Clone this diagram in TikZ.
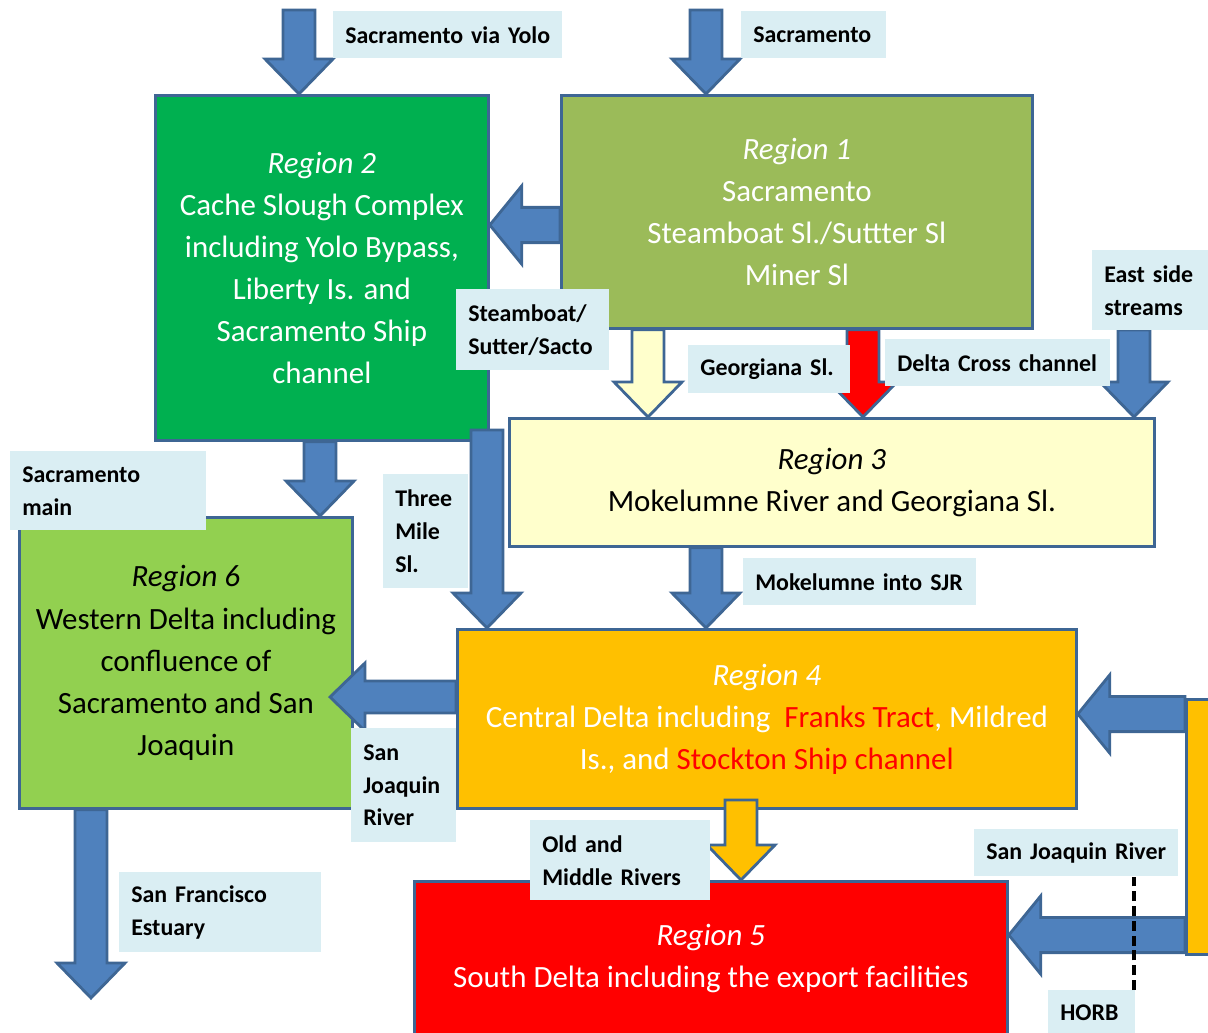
\documentclass[tikz,border=0pt]{standalone}
\usepackage{fontspec}
\setmainfont{Carlito}
\usetikzlibrary{calc}

\definecolor{arrowfill}{HTML}{4F81BD}
\definecolor{edgeblue}{HTML}{3E6694}
\definecolor{tagfill}{HTML}{DAEEF3}
\definecolor{cachegreen}{HTML}{00B050}
\definecolor{sacolive}{HTML}{9BBB59}
\definecolor{mokyellow}{HTML}{FFFFCC}
\definecolor{westgreen}{HTML}{92D050}
\definecolor{centralorange}{HTML}{FFC000}
\definecolor{southred}{HTML}{FF0000}

\newcommand{\regionfont}{\fontsize{22}{29.9}\selectfont}
\newcommand{\tagfont}{\bfseries\fontsize{17}{23.4}\selectfont}
\newcommand{\pu}[1]{#1*0.025cm}

% block arrow from tail to tip
\newcommand{\arrowshaft}{0.4cm}
\newcommand{\arrowhead}{0.85cm}
\newcommand{\arrowlen}{0.875cm}
\newcommand{\flowarrow}[3][flowblue]{%
  \path #2 coordinate (fatail) #3 coordinate (fatip);
  \path ($(fatip)!\arrowlen!(fatail)$) coordinate (fabase);
  \draw[#1] ($(fatail)!\arrowshaft!90:(fatip)$) -- ($(fabase)!\arrowshaft!90:(fatip)$)
    -- ($(fabase)!\arrowhead!90:(fatip)$) -- (fatip) -- ($(fabase)!\arrowhead!-90:(fatip)$)
    -- ($(fabase)!\arrowshaft!-90:(fatip)$) -- ($(fatail)!\arrowshaft!-90:(fatip)$) -- cycle;
}

\begin{document}
\begin{tikzpicture}[x=0.025cm,y=-0.025cm,
  region/.style={draw=edgeblue, line width=0.07cm, anchor=north west, align=center, font=\regionfont},
  riverlabel/.style={fill=tagfill, anchor=north west, inner xsep=0.3cm, inner ysep=0pt, align=left, font=\tagfont},
  flowblue/.style={fill=arrowfill, draw=edgeblue, line width=0.07cm, line join=miter},
  ]

  \useasboundingbox (0,0) rectangle (1208,1032);

  % regions
  \node[region, fill=cachegreen, text=white, minimum width=\pu{333}, minimum height=\pu{345}] (r2) at (154,94)
    {\textit{Region 2}\\Cache Slough Complex\\including Yolo Bypass,\\Liberty Is. and\\Sacramento Ship\\channel};
  \node[region, fill=sacolive, text=white, minimum width=\pu{471}, minimum height=\pu{233}] (r1) at (560,94)
    {\textit{Region 1}\\Sacramento\\Steamboat Sl./Suttter Sl\\Miner Sl};
  \node[region, fill=mokyellow, text=black, minimum width=\pu{645}, minimum height=\pu{128}] (r3) at (508,417)
    {\textit{Region 3}\\Mokelumne River and Georgiana Sl.};
  \node[region, fill=westgreen, text=black, minimum width=\pu{333}, minimum height=\pu{291}] (r6) at (18,516)
    {\textit{Region 6}\\Western Delta including\\confluence of\\Sacramento and San\\Joaquin};
  \node[region, fill=centralorange, text=white, minimum width=\pu{619}, minimum height=\pu{179}] (r4) at (456,628)
    {\textit{Region 4}\\Central Delta including\ \ \textcolor{southred}{Franks Tract}, Mildred\\Is., and \textcolor{southred}{Stockton Ship channel}};
  \node[region, fill=southred, text=white, minimum width=\pu{593}, minimum height=\pu{155}] (r5) at (413,880)
    {\textit{Region 5}\\South Delta including the export facilities};
  \node[region, fill=centralorange, minimum width=\pu{40}, minimum height=\pu{255}] (sjbar) at (1185,698) {};

  % inflows and links
  \coordinate (yolo) at (299,10);
  \coordinate (sacin) at (706,10);
  \coordinate (eastin) at (1134,330);
  \coordinate (threemile) at (487,430);
  \coordinate (sfout) at (91,998);

  \flowarrow{(yolo)}{(yolo |- r2.north)}
  \flowarrow{(sacin)}{(sacin |- r1.north)}
  {\renewcommand{\arrowshaft}{0.44cm}\renewcommand{\arrowhead}{0.98cm}\renewcommand{\arrowlen}{0.8cm}
  \flowarrow{(r1.west |- 0,225)}{(r2.east |- 0,225)}
  \flowarrow{(sjbar.west |- 0,714)}{(r4.east |- 0,714)}
  \flowarrow{(sjbar.west |- 0,935)}{(r5.east |- 0,935)}}
  \flowarrow[flowblue, fill=mokyellow]{(r1.south -| 648,0)}{(r3.north -| 648,0)}
  \flowarrow[flowblue, fill=southred]{(r1.south -| 863,0)}{(r3.north -| 863,0)}
  \flowarrow{(eastin)}{(eastin |- r3.north)}
  \flowarrow{(r2.south -| 320,0)}{(r6.north -| 320,0)}
  \flowarrow{(threemile)}{(threemile |- r4.north)}
  \flowarrow{(r3.south -| 706,0)}{(r4.north -| 706,0)}
  \flowarrow{(r4.west |- 0,697)}{(330,697)}
  \flowarrow[flowblue, fill=centralorange]{(741,800)}{(r5.north -| 741,0)}
  \flowarrow{(r6.south -| sfout)}{(sfout)}

  % labels
  \node[riverlabel, text width=5.125cm, minimum height=1.175cm] (lyolo) at (333,11) {Sacramento via Yolo};
  \node[riverlabel, text width=3.025cm, minimum height=1.175cm] (lsac) at (741,11) {Sacramento};
  \node[riverlabel, text width=3.225cm, minimum height=2.025cm] (lsteam) at (456,289) {Steamboat/\\Sutter/Sacto};
  \node[riverlabel, text width=3.45cm, minimum height=1.2cm] (lgeorg) at (688,345) {Georgiana Sl.};
  \node[riverlabel, text width=5.025cm, minimum height=1.175cm] (ldcc) at (885,339) {Delta Cross channel};
  \node[riverlabel, text width=2.4cm, minimum height=2.0cm] (least) at (1092,250) {East side\\streams};
  \node[riverlabel, text width=4.3cm, minimum height=1.975cm] (lsacmain) at (10,451) {Sacramento\\main};
  \node[riverlabel, text width=1.525cm, minimum height=2.85cm] (lthree) at (383,474) {Three\\Mile\\Sl.};
  \node[riverlabel, text width=5.225cm, minimum height=1.175cm] (lmok) at (743,558) {Mokelumne into SJR};
  \node[riverlabel, text width=2.025cm, minimum height=2.85cm] (lsjr) at (351,728) {San\\Joaquin\\River};
  \node[riverlabel, text width=3.9cm, minimum height=2.0cm] (lomr) at (530,820) {Old and\\Middle Rivers};
  \node[riverlabel, text width=4.5cm, minimum height=1.175cm] (lsjrmain) at (974,829) {San Joaquin River};
  \node[riverlabel, text width=1.575cm, minimum height=1.125cm] (lhorb) at (1048,990) {HORB};
  \node[riverlabel, text width=4.45cm, minimum height=2.0cm] (lsfe) at (119,872) {San Francisco\\Estuary};

  % barrier
  \draw[black, line width=0.1cm, dash pattern=on 0.25cm off 0.12cm] ([xshift=-0.05cm]lhorb.north east) -- ([xshift=-0.05cm]lhorb.north east |- lsjrmain.south);

\end{tikzpicture}
\end{document}
